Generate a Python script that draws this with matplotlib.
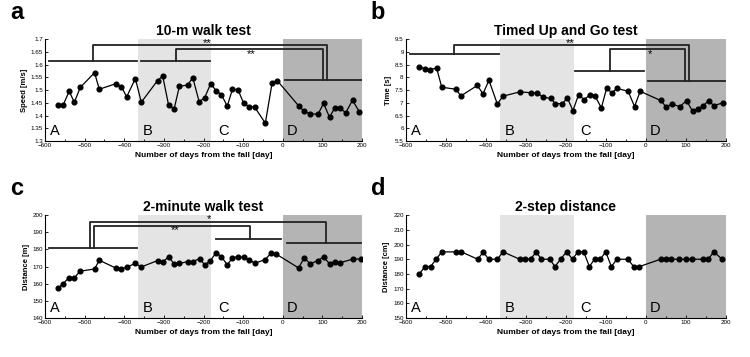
import matplotlib
matplotlib.use('Agg')
import matplotlib.pyplot as plt
from matplotlib.ticker import MultipleLocator

plt.rcParams['font.family'] = ['Liberation Sans', 'DejaVu Sans']

# ---------------- data ----------------
days_a = [-566, -554, -539, -526, -511, -475, -463, -421, -407, -394, -372, -357,
          -316, -303, -288, -274, -261, -240, -227, -211, -197, -182, -168, -155,
          -140, -127, -113, -99, -85, -71, -44, -27, -14, 40, 54, 69, 89, 103,
          118, 131, 145, 159, 176, 193]
speed = [1.44, 1.442, 1.495, 1.452, 1.51, 1.568, 1.503, 1.525, 1.513, 1.473, 1.545, 1.452,
         1.537, 1.555, 1.44, 1.427, 1.514, 1.52, 1.548, 1.454, 1.47, 1.525, 1.497, 1.482,
         1.437, 1.503, 1.501, 1.449, 1.435, 1.433, 1.37, 1.527, 1.537, 1.438, 1.416, 1.407,
         1.405, 1.448, 1.393, 1.43, 1.428, 1.411, 1.46, 1.415]

days_b = [-567, -553, -539, -523, -510, -475, -462, -421, -407, -392, -371, -357,
          -314, -287, -272, -257, -238, -226, -209, -196, -182, -168, -154, -139,
          -127, -111, -98, -85, -71, -44, -28, -14, 37, 51, 65, 85, 102, 117,
          130, 143, 157, 170, 192]
tug_time = [8.42, 8.34, 8.29, 8.37, 7.61, 7.53, 7.27, 7.68, 7.35, 7.88, 6.95, 7.26,
            7.43, 7.39, 7.39, 7.22, 7.17, 6.97, 6.96, 7.19, 6.69, 7.32, 7.12, 7.32,
            7.27, 6.80, 7.56, 7.40, 7.56, 7.45, 6.85, 7.45, 7.09, 6.84, 6.95, 6.85,
            7.08, 6.67, 6.75, 6.88, 7.08, 6.89, 6.99]

days_c = [-568, -555, -540, -526, -512, -475, -463, -422, -408, -394, -372, -357,
          -316, -303, -288, -274, -261, -240, -227, -210, -197, -183, -168, -155,
          -140, -127, -113, -99, -85, -71, -44, -30, -16, 40, 54, 69, 89, 103,
          118, 131, 145, 176, 197]
walk2 = [157.3, 159.9, 163.4, 163.4, 167.3, 168.6, 173.7, 169.2, 168.6, 169.6, 171.9, 169.8,
         173.5, 172.5, 175.8, 171.4, 171.8, 172.9, 172.9, 174.7, 171.0, 173.3, 178.2, 175.8,
         171.0, 175.1, 175.8, 175.3, 174.1, 171.9, 174.1, 177.8, 177.2, 169.2, 175.1, 171.6,
         173.5, 175.7, 171.6, 172.9, 172.3, 174.3, 174.5]

days_d = [-566, -552, -538, -524, -510, -475, -461, -420, -406, -393, -371, -357,
          -315, -302, -288, -274, -261, -240, -227, -213, -198, -183, -170, -155,
          -141, -128, -114, -100, -86, -72, -45, -30, -16, 37, 50, 64, 83, 100,
          116, 142, 156, 170, 191]
step2 = [180, 185, 185, 190, 195, 195, 195, 190, 195, 190, 190, 195,
         190, 190, 190, 195, 190, 190, 185, 190, 195, 190, 195, 195,
         185, 190, 190, 195, 185, 190, 190, 185, 185, 190, 190, 190, 190, 190,
         190, 190, 190, 195, 190]

periods = ['A', 'B', 'C', 'D']
period_b = (-365, -180)
period_d = (0, 202)

# group lines: (x0, x1, y); brackets: (x_from, x_to, y_top, y_from, y_to); stars: (x, y, text)
groups_a = [(-589, -368, 1.615), (-358, -183, 1.615), (6, 200, 1.539)]
brackets_a = [(-480, 112, 1.678, 1.615, 1.539), (-270, 101, 1.661, 1.615, 1.539)]
stars_a = [(-192, 1.684, '**'), (-80, 1.642, '**')]

groups_b = [(-590, -367, 8.90), (-177, -4, 8.26), (6, 198, 7.87)]
brackets_b = [(-480, 109, 9.27, 8.90, 7.87), (-89, 99, 9.10, 8.26, 7.87)]
stars_b = [(-188, 9.33, '**'), (11, 8.92, '*')]

groups_c = [(-591, -368, 180.9), (-169, -4, 186.2), (11, 198, 183.8)]
brackets_c = [(-487, 108, 196.1, 180.9, 183.8), (-477, -82, 193.8, 180.9, 186.2)]
stars_c = [(-186, 197.7, '*'), (-272, 191.3, '**')]

fig = plt.figure(figsize=(7.5, 3.57), dpi=100)


def panel(rect, letter, title, x, y, ylim, ystep, ylabel, yfmt,
          groups=(), brackets=(), stars=()):
    ax = fig.add_axes(rect)
    ax.axvspan(*period_b, color='#e4e4e4', lw=0, zorder=0)
    ax.axvspan(*period_d, color='#b4b4b4', lw=0, zorder=0)
    ax.plot(x, y, '-o', color='black', lw=0.9, ms=3.4, zorder=3)
    ax.set_xlim(-600, 200)
    ax.set_ylim(*ylim)
    ax.xaxis.set_major_locator(MultipleLocator(100))
    ax.xaxis.set_minor_locator(MultipleLocator(50))
    ax.yaxis.set_major_locator(MultipleLocator(ystep))
    ax.set_yticklabels([yfmt(v) for v in ax.get_yticks()])
    ax.tick_params(labelsize=4.5, length=2, width=0.6, pad=1.5, direction='in')
    ax.tick_params(which='minor', length=1.5, width=0.6, direction='in')
    for s in ['top', 'right']:
        ax.spines[s].set_visible(False)
    for s in ['left', 'bottom']:
        ax.spines[s].set_linewidth(0.8)
    ax.set_xlabel('Number of days from the fall [day]', fontsize=6, fontweight='bold', labelpad=3)
    ax.set_ylabel(ylabel, fontsize=5.5, fontweight='bold', labelpad=2)
    ax.set_title(title, fontsize=10, fontweight='bold', pad=3)
    ax.text(-0.11, 1.26, letter, transform=ax.transAxes, fontsize=17, fontweight='bold',
            va='center', ha='left')
    ybot = ylim[0] + (ylim[1] - ylim[0]) * 0.03
    for lab, xp in zip(periods, [-588, -353, -164, 11]):
        ax.text(xp, ybot, lab, fontsize=10.5, ha='left', va='bottom', zorder=4)
    for x0, x1, yy in groups:
        ax.plot([x0, x1], [yy, yy], color='#222222', lw=1.3, zorder=2)
    for xf, xt, ytop, yf, yt in brackets:
        ax.plot([xf, xf, xt, xt], [yf, ytop, ytop, yt], color='#222222', lw=1.3, zorder=2)
    for xs, ys, st in stars:
        ax.text(xs, ys, st, fontsize=8, ha='center', va='center', zorder=4)
    return ax


panel([0.060, 0.605, 0.4227, 0.2857], 'a', '10-m walk test', days_a, speed,
      (1.3, 1.7), 0.05, 'Speed [m/s]', lambda v: ('%.2f' % v).rstrip('0').rstrip('.'),
      groups_a, brackets_a, stars_a)
panel([0.541, 0.605, 0.4267, 0.2857], 'b', 'Timed Up and Go test', days_b, tug_time,
      (5.5, 9.5), 0.5, 'Time [s]', lambda v: ('%.1f' % v).rstrip('0').rstrip('.'),
      groups_b, brackets_b, stars_b)
panel([0.060, 0.109, 0.4227, 0.2885], 'c', '2-minute walk test', days_c, walk2,
      (140, 200), 10, 'Distance [m]', lambda v: '%d' % v,
      groups_c, brackets_c, stars_c)
panel([0.541, 0.109, 0.4267, 0.2885], 'd', '2-step distance', days_d, step2,
      (150, 220), 10, 'Distance [cm]', lambda v: '%d' % v)

fig.savefig('out.png', dpi=100)
